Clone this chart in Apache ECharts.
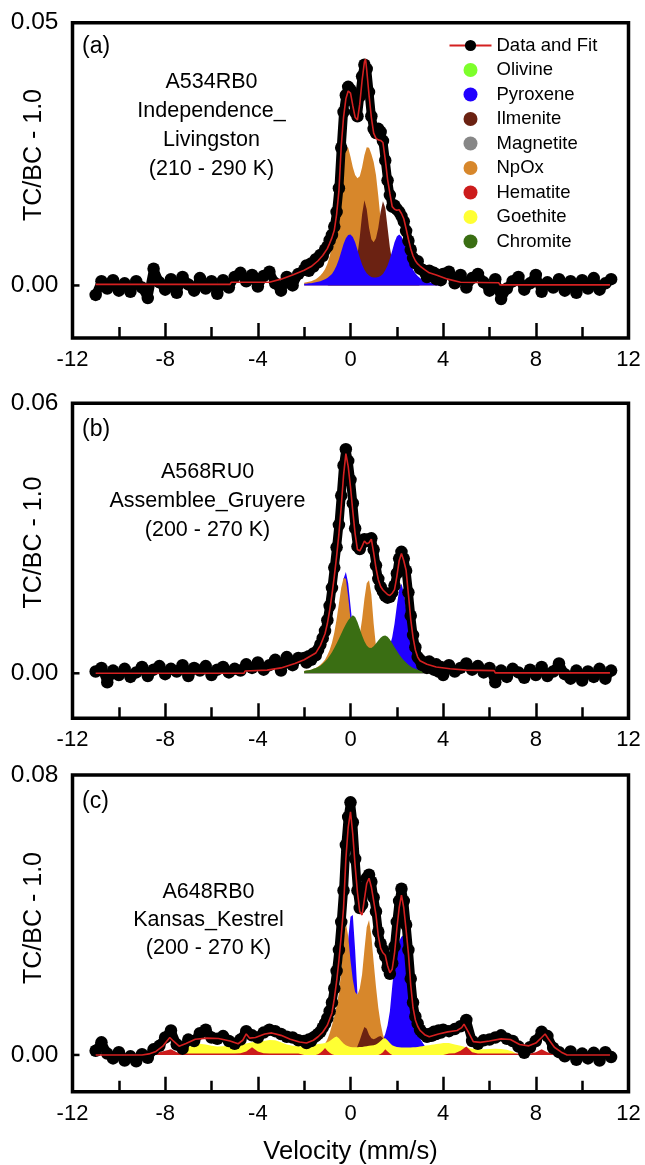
<!DOCTYPE html>
<html>
<head>
<meta charset="utf-8">
<script src="https://cdn.jsdelivr.net/npm/echarts@6/dist/echarts.min.js"></script>
<style>
html,body{margin:0;padding:0;background:#fff;}
#chart{width:645px;height:1165px;}
</style>
</head>
<body>
<div id="chart"></div>
<script>
// ---------------- DATA ----------------
// velocity channels (mm/s)
const velLeft = [-11,-10.75,-10.5,-10.25,-10,-9.75,-9.5,-9.25,-9,-8.75,-8.5,-8.25,
  -8,-7.75,-7.5,-7.25,-7,-6.75,-6.5,-6.25,-6,-5.75,-5.5,-5.25,
  -5,-4.75,-4.5,-4.25,-4,-3.75,-3.5,-3.25,-3,-2.75,-2.5,-2.25];
const velCore = [-2,-1.9,-1.8,-1.7,-1.6,-1.5,-1.4,-1.3,-1.2,-1.1,
  -1,-0.9,-0.8,-0.7,-0.6,-0.5,-0.4,-0.3,-0.2,-0.1,
  0,0.1,0.2,0.3,0.4,0.5,0.6,0.7,0.8,0.9,
  1,1.1,1.2,1.3,1.4,1.5,1.6,1.7,1.8,1.9,
  2,2.1,2.2,2.3,2.4,2.5,2.6,2.7,2.8,2.9,
  3,3.1,3.2,3.3,3.4,3.5,3.6,3.7,3.8,3.9,
  4];
const velRight = [4.25,4.5,4.75,5,5.25,5.5,5.75,6,6.25,6.5,
  6.75,7,7.25,7.5,7.75,8,8.25,8.5,8.75,9,
  9.25,9.5,9.75,10,10.25,10.5,10.75,11,11.25];
const velocity = velLeft.concat(velCore, velRight);

const xTickLabels = [-12,-8,-4,0,4,8,12];
const yLabelsA = [0, 0.05];
const yLabelsB = [0, 0.06];
const yLabelsC = [0, 0.08];

// ----- panel (a) A534RB0 -----
const dataA = [
  -0.0018,0.0008,-0.0006,0.0010,-0.0010,0.0004,-0.0012,0.0008,-0.0004,-0.0024,0.0032,0.0006,
  -0.0008,0.0012,-0.0014,0.0016,0.0002,-0.0010,0.0014,-0.0006,0.0008,-0.0016,0.0010,-0.0004,
  0.0016,0.0024,0.0008,0.0020,-0.0002,0.0018,0.0026,0.0004,-0.0010,0.0016,0.0000,0.0022,
  0.0030,0.0038,0.0028,0.0042,0.0036,0.0050,0.0044,0.0058,0.0056,0.0068,
  0.0074,0.0086,0.0096,0.0112,0.0140,0.0185,0.0262,0.0330,0.0362,0.0378,
  0.0372,0.0352,0.0330,0.0322,0.0360,0.0398,0.0420,0.0412,0.0368,0.0322,
  0.0298,0.0290,0.0298,0.0292,0.0275,0.0238,0.0200,0.0172,0.0150,0.0152,
  0.0145,0.0140,0.0132,0.0122,0.0104,0.0085,0.0068,0.0052,0.0042,0.0046,
  0.0032,0.0030,0.0026,0.0016,0.0028,0.0018,0.0024,0.0012,0.0020,0.0010,
  0.0022,
  0.0026,0.0004,0.0020,-0.0004,0.0014,0.0022,0.0006,-0.0010,0.0012,-0.0026,
  -0.0006,0.0008,0.0016,-0.0008,0.0004,0.0020,-0.0012,0.0006,-0.0004,0.0012,
  -0.0010,0.0008,-0.0014,0.0010,-0.0006,0.0014,-0.0008,0.0004,0.0012];
const fitVelA = [-11,-5.2,-5.15,-3.5,-3.0,-2.5,-2.0,-1.7,-1.4,-1.2,
  -1.0,-0.9,-0.8,-0.7,-0.6,-0.5,-0.4,-0.3,-0.2,-0.1,
  0,0.1,0.2,0.3,0.4,0.5,0.6,0.65,0.7,0.8,
  0.9,1.0,1.1,1.2,1.3,1.4,1.5,1.6,1.7,1.8,
  1.9,2.0,2.1,2.2,2.3,2.4,2.5,2.6,2.7,2.8,
  2.9,3.0,3.2,3.4,3.7,4.2,4.75,6.4,6.45,11.2];
const fitA = [0.0002,0.0002,0.0006,0.0006,0.0012,0.0020,0.0029,0.0036,0.0047,0.0057,
  0.0070,0.0080,0.0091,0.0105,0.0135,0.0180,0.0265,0.0320,0.0355,0.0370,
  0.0366,0.0342,0.0320,0.0315,0.0345,0.0390,0.0425,0.0431,0.0410,0.0362,
  0.0320,0.0290,0.0280,0.0277,0.0276,0.0272,0.0240,0.0202,0.0175,0.0150,
  0.0145,0.0143,0.0144,0.0137,0.0127,0.0108,0.0088,0.0070,0.0056,0.0047,
  0.0041,0.0037,0.0030,0.0024,0.0020,0.0012,0.0006,0.0005,0.0001,0.0001];
const npoxA = [0.0005,0.0006,0.0007,0.0008,0.0010,0.0012,0.0015,0.0019,0.0024,0.0031,
  0.0041,0.0055,0.0075,0.0105,0.0145,0.0190,0.0230,0.0255,0.0264,0.0262,
  0.0245,0.0225,0.0210,0.0204,0.0208,0.0225,0.0248,0.0263,0.0262,0.0250,
  0.0235,0.0210,0.0170,0.0125,0.0090,0.0065,0.0048,0.0037,0.0029,0.0023,
  0.0019,0.0016,0.0013,0.0011,0.0010,0.0008,0.0007,0.0006,0.0005,0.0005,
  0.0004,0.0004,0.0003,0.0003,0.0003,0.0002,0.0002,0.0002,0.0002,0.0001,
  0.0001];
const ilmA = [0,0,0,0,0,0,0,0,0,0,
  0,0.0002,0.0002,0.0003,0.0003,0.0004,0.0005,0.0007,0.0009,0.0012,
  0.0017,0.0024,0.0036,0.0058,0.0092,0.0135,0.0162,0.0145,0.0110,0.0088,
  0.0082,0.0090,0.0110,0.0140,0.0160,0.0148,0.0110,0.0072,0.0046,0.0031,
  0.0022,0.0016,0.0012,0.0009,0.0007,0.0005,0.0004,0.0003,0.0003,0.0002,
  0,0,0,0,0,0,0,0,0,0,
  0];
const pyxA = [0.0003,0.0003,0.0004,0.0004,0.0005,0.0006,0.0007,0.0008,0.0010,0.0012,
  0.0014,0.0018,0.0022,0.0029,0.0038,0.0050,0.0064,0.0079,0.0090,0.0096,
  0.0097,0.0092,0.0082,0.0068,0.0053,0.0040,0.0030,0.0023,0.0019,0.0016,
  0.0015,0.0015,0.0016,0.0018,0.0022,0.0029,0.0038,0.0051,0.0066,0.0082,
  0.0093,0.0097,0.0093,0.0083,0.0068,0.0053,0.0040,0.0030,0.0023,0.0018,
  0.0014,0.0011,0.0009,0.0008,0.0006,0.0005,0.0004,0.0004,0.0003,0.0003,
  0.0003];

// ----- panel (b) A568RU0 -----
const dataB = [
  0.0004,0.0012,-0.0020,0.0006,-0.0004,0.0010,-0.0008,0.0002,0.0014,-0.0006,0.0008,0.0016,
  -0.0002,0.0010,0.0004,0.0018,-0.0006,0.0012,0.0006,0.0016,-0.0004,0.0008,0.0014,0.0002,
  0.0010,0.0006,0.0020,0.0012,0.0024,0.0008,0.0018,0.0030,0.0006,0.0036,0.0018,0.0034,
  0.0034,0.0024,0.0038,0.0030,0.0044,0.0040,0.0052,0.0064,0.0078,0.0094,
  0.0118,0.0150,0.0190,0.0235,0.0280,0.0330,0.0395,0.0462,0.0498,0.0472,
  0.0430,0.0378,0.0322,0.0282,0.0276,0.0290,0.0298,0.0294,0.0298,0.0300,
  0.0275,0.0240,0.0210,0.0192,0.0182,0.0172,0.0168,0.0170,0.0180,0.0195,
  0.0222,0.0255,0.0270,0.0255,0.0228,0.0180,0.0128,0.0085,0.0058,0.0036,
  0.0030,0.0018,0.0024,0.0012,0.0026,0.0016,0.0008,0.0020,0.0004,0.0014,
  -0.0004,
  0.0018,0.0004,0.0012,0.0022,0.0008,0.0016,0.0002,0.0012,-0.0020,0.0006,
  -0.0008,0.0010,0.0002,-0.0010,0.0008,-0.0004,0.0014,-0.0006,0.0004,0.0022,
  -0.0002,-0.0012,0.0006,-0.0016,0.0004,-0.0008,0.0010,-0.0012,0.0006];
const fitVelB = [-11,-4.6,-4.55,-3.6,-3.0,-2.4,-2.0,-1.5,-1.3,-1.1,
  -1.0,-0.9,-0.8,-0.7,-0.6,-0.5,-0.4,-0.3,-0.2,-0.1,
  0,0.1,0.2,0.3,0.4,0.5,0.6,0.7,0.8,0.9,
  1.0,1.1,1.2,1.3,1.4,1.5,1.6,1.7,1.8,1.9,
  2.0,2.1,2.2,2.3,2.4,2.5,2.6,2.7,2.8,2.9,
  3.0,3.3,3.7,4.3,5.0,6.2,6.25,11.2];
const fitB = [0,0,0.0005,0.0007,0.0012,0.0022,0.0030,0.0045,0.0062,0.0088,
  0.0110,0.0140,0.0175,0.0215,0.0260,0.0310,0.0370,0.0440,0.0488,0.0460,
  0.0414,0.0360,0.0310,0.0275,0.0272,0.0282,0.0294,0.0288,0.0290,0.0298,
  0.0268,0.0234,0.0208,0.0193,0.0185,0.0180,0.0175,0.0173,0.0178,0.0186,
  0.0215,0.0250,0.0266,0.0250,0.0229,0.0175,0.0120,0.0080,0.0052,0.0036,
  0.0028,0.0020,0.0014,0.0010,0.0007,0.0006,0.0001,0.0001];
const pyxB = [0.0004,0.0004,0.0005,0.0006,0.0007,0.0008,0.0010,0.0012,0.0015,0.0019,
  0.0025,0.0033,0.0045,0.0062,0.0088,0.0125,0.0170,0.0210,0.0225,0.0200,
  0.0150,0.0100,0.0068,0.0048,0.0036,0.0028,0.0023,0.0020,0.0018,0.0018,
  0.0019,0.0021,0.0024,0.0029,0.0034,0.0040,0.0050,0.0062,0.0080,0.0110,
  0.0150,0.0185,0.0199,0.0180,0.0145,0.0105,0.0072,0.0048,0.0032,0.0022,
  0.0016,0.0012,0.0009,0.0007,0.0006,0.0005,0.0004,0.0004,0.0003,0.0003,
  0.0003];
const npoxB = [0.0005,0.0006,0.0007,0.0008,0.0010,0.0012,0.0015,0.0019,0.0024,0.0030,
  0.0040,0.0052,0.0068,0.0090,0.0120,0.0155,0.0190,0.0212,0.0210,0.0170,
  0.0120,0.0090,0.0072,0.0068,0.0085,0.0120,0.0165,0.0200,0.0207,0.0175,
  0.0110,0.0060,0.0040,0.0030,0.0024,0.0020,0.0017,0.0015,0.0013,0.0011,
  0.0010,0.0008,0.0007,0.0006,0.0005,0.0005,0.0004,0.0004,0.0003,0.0003,
  0.0003,0.0002,0.0002,0.0002,0.0002,0.0002,0.0001,0.0001,0.0001,0.0001,
  0.0001];
const chrB = [0.0005,0.0006,0.0007,0.0008,0.0010,0.0012,0.0014,0.0017,0.0021,0.0026,
  0.0032,0.0039,0.0047,0.0056,0.0066,0.0077,0.0088,0.0099,0.0109,0.0118,
  0.0124,0.0129,0.0125,0.0114,0.0099,0.0084,0.0071,0.0062,0.0057,0.0056,
  0.0060,0.0066,0.0073,0.0079,0.0083,0.0084,0.0081,0.0075,0.0067,0.0058,
  0.0050,0.0042,0.0035,0.0029,0.0024,0.0019,0.0015,0.0012,0.0010,0.0008,
  0.0006,0.0005,0.0004,0.0003,0.0003,0.0002,0.0002,0.0001,0.0001,0.0001,
  0.0001];

// ----- panel (c) A648RB0 -----
const dataC = [
  0.0012,0.0036,0.0004,-0.0010,0.0008,-0.0016,-0.0004,-0.0018,0.0002,-0.0008,0.0016,0.0026,
  0.0050,0.0070,0.0030,0.0018,0.0044,0.0040,0.0062,0.0072,0.0050,0.0046,0.0054,0.0040,
  0.0032,0.0044,0.0068,0.0056,0.0050,0.0064,0.0072,0.0068,0.0060,0.0052,0.0050,0.0042,
  0.0040,0.0034,0.0044,0.0040,0.0050,0.0054,0.0060,0.0066,0.0078,0.0090,
  0.0105,0.0125,0.0150,0.0190,0.0240,0.0300,0.0380,0.0470,0.0600,0.0680,
  0.0722,0.0665,0.0560,0.0470,0.0420,0.0430,0.0470,0.0505,0.0515,0.0495,
  0.0450,0.0410,0.0352,0.0318,0.0300,0.0282,0.0250,0.0232,0.0262,0.0310,
  0.0380,0.0440,0.0475,0.0440,0.0372,0.0300,0.0218,0.0150,0.0110,0.0090,
  0.0072,0.0064,0.0058,0.0052,0.0060,0.0055,0.0066,0.0060,0.0070,0.0064,
  0.0072,
  0.0068,0.0074,0.0082,0.0100,0.0040,0.0032,0.0042,0.0044,0.0050,0.0056,
  0.0046,0.0040,0.0024,0.0006,0.0022,0.0040,0.0066,0.0054,0.0020,0.0008,
  -0.0004,0.0010,-0.0014,0.0004,-0.0010,0.0006,-0.0016,0.0008,-0.0006];
const fitVelC = [-11,-9.0,-8.7,-8.4,-8.1,-7.95,-7.8,-7.65,-7.4,-7.1,
  -6.7,-6.2,-5.7,-5.2,-4.85,-4.65,-4.5,-4.35,-4.1,-3.7,
  -3.4,-3.0,-2.6,-2.2,-1.9,-1.6,-1.4,-1.2,-1.0,-0.8,
  -0.7,-0.6,-0.5,-0.4,-0.3,-0.2,-0.1,0,0.1,0.2,
  0.3,0.4,0.5,0.6,0.7,0.8,0.9,1.0,1.1,1.2,
  1.3,1.4,1.5,1.6,1.7,1.8,1.9,2.0,2.1,2.2,
  2.3,2.4,2.5,2.6,2.7,2.8,2.9,3.0,3.2,3.4,
  3.8,4.2,4.6,4.8,4.9,5.05,5.3,5.6,6.0,6.5,
  6.9,7.3,7.7,8.0,8.25,8.4,8.55,8.8,9.1,9.35,
  11.2];
const fitC = [0,0,0.0003,0.0010,0.0025,0.0038,0.0050,0.0040,0.0025,0.0033,
  0.0045,0.0048,0.0047,0.0040,0.0032,0.0042,0.0060,0.0048,0.0050,0.0060,
  0.0063,0.0056,0.0045,0.0037,0.0034,0.0042,0.0052,0.0065,0.0085,0.0120,
  0.0160,0.0210,0.0270,0.0340,0.0420,0.0560,0.0650,0.0695,0.0630,0.0540,
  0.0465,0.0410,0.0400,0.0445,0.0490,0.0505,0.0480,0.0440,0.0400,0.0340,
  0.0305,0.0292,0.0285,0.0255,0.0235,0.0245,0.0290,0.0360,0.0420,0.0457,
  0.0420,0.0357,0.0290,0.0200,0.0135,0.0100,0.0082,0.0070,0.0058,0.0052,
  0.0060,0.0066,0.0070,0.0078,0.0088,0.0070,0.0038,0.0036,0.0040,0.0046,
  0.0044,0.0030,0.0026,0.0034,0.0050,0.0060,0.0045,0.0022,0.0008,0,
  0];
const pyxC = [0.0003,0.0003,0.0004,0.0004,0.0005,0.0006,0.0007,0.0008,0.0010,0.0012,
  0.0015,0.0019,0.0025,0.0034,0.0047,0.0068,0.0100,0.0150,0.0230,0.0330,
  0.0395,0.0400,0.0300,0.0175,0.0100,0.0062,0.0043,0.0033,0.0027,0.0024,
  0.0023,0.0024,0.0027,0.0033,0.0043,0.0060,0.0085,0.0125,0.0195,0.0260,
  0.0300,0.0325,0.0338,0.0343,0.0300,0.0230,0.0170,0.0120,0.0088,0.0065,
  0.0048,0.0036,0.0026,0.0018,0.0013,0.0010,0.0008,0.0007,0.0006,0.0005,
  0.0004];
const npoxC = [0.0004,0.0005,0.0006,0.0007,0.0009,0.0011,0.0014,0.0018,0.0024,0.0032,
  0.0044,0.0062,0.0085,0.0110,0.0140,0.0178,0.0240,0.0330,0.0377,0.0340,
  0.0270,0.0215,0.0180,0.0172,0.0190,0.0230,0.0300,0.0365,0.0386,0.0340,
  0.0265,0.0195,0.0135,0.0090,0.0058,0.0040,0.0030,0.0023,0.0018,0.0015,
  0.0012,0.0010,0.0009,0.0008,0.0007,0.0006,0.0005,0.0005,0.0004,0.0004,
  0.0003,0.0003,0.0003,0.0002,0.0002,0.0002,0.0002,0.0001,0.0001,0.0001,
  0.0001];
const ilmC = [0,0,0,0,0,0,0,0,0,0,
  0,0,0,0,0,0,0,0,0,0.0002,
  0.0003,0.0005,0.0012,0.0025,0.0042,0.0062,0.0080,0.0075,0.0058,0.0048,
  0.0045,0.0048,0.0052,0.0054,0.0048,0.0032,0.0018,0.0010,0.0006,0.0004,
  0.0003,0,0,0,0,0,0,0,0,0,
  0,0,0,0,0,0,0,0,0,0,
  0];
const goeC = [
  0,0,0,0,0,0,0,0,0,0,0,0,
  0,0,0,0,0.0022,0.0030,0.0032,0.0030,0.0026,0.0024,0.0025,0.0026,
  0.0028,0.0030,0.0033,0.0036,0.0038,0.0040,0.0043,0.0042,0.0036,0.0030,0.0026,0.0025,
  0.0025,0.0026,0.0027,0.0028,0.0029,0.0030,0.0031,0.0032,0.0033,0.0034,
  0.0036,0.0040,0.0045,0.0050,0.0053,0.0048,0.0040,0.0033,0.0028,0.0025,
  0.0023,0.0022,0.0022,0.0022,0.0023,0.0023,0.0024,0.0025,0.0026,0.0027,
  0.0028,0.0030,0.0034,0.0040,0.0046,0.0048,0.0042,0.0034,0.0028,0.0025,
  0.0023,0.0022,0.0021,0.0021,0.0021,0.0021,0.0021,0.0022,0.0022,0.0023,
  0.0024,0.0025,0.0026,0.0027,0.0028,0.0029,0.0030,0.0031,0.0032,0.0033,
  0.0034,
  0.0034,0.0030,0.0026,0.0022,0.0018,0.0016,0.0016,0.0017,0.0018,0.0017,
  0.0015,0.0010,0,0,0,0,0,0,0,0,
  0,0,0,0,0,0,0,0,0];
const hemC = [
  0,0,0,0,0,0,0,0,0,0,0.0004,0.0008,
  0.0012,0.0016,0.0008,0.0005,0.0004,0.0004,0.0004,0.0004,0.0004,0.0004,0.0004,0.0004,
  0.0004,0.0005,0.0010,0.0022,0.0010,0.0005,0.0004,0.0004,0.0004,0.0004,0.0004,0.0004,
  0,0,0,0,0,0,0.0002,0.0006,0.0012,0.0020,
  0.0012,0.0006,0.0002,0,0,0,0,0,0,0,
  0,0,0,0,0,0,0,0,0,0,
  0,0,0,0.0003,0.0008,0.0016,0.0010,0.0004,0,0,
  0,0,0,0,0,0,0,0,0,0,
  0,0,0,0,0,0,0,0,0,0,
  0,
  0.0004,0.0005,0.0012,0.0024,0.0008,0.0004,0.0004,0.0004,0.0004,0.0004,
  0.0004,0.0004,0.0004,0.0004,0.0004,0.0008,0.0016,0.0008,0.0003,0,
  0,0,0,0,0,0,0,0,0];

// ---------------- CHART ----------------
const FONT = '"Liberation Sans", Arial, Helvetica, sans-serif';
const COL = {
  olivine:'#7dff2b', pyroxene:'#2000ff', ilmenite:'#6b2212', magnetite:'#878787',
  npox:'#d7872b', hematite:'#cc1c1c', goethite:'#ffff33', chromite:'#3a6e13',
  fit:'#d42020', data:'#000000'
};
const pairs = (xs, ys) => xs.map((x, i) => [x, ys[i]]);

const panels = [
  {top:22.7, height:315.3, min:-0.01, max:0.05, labels:yLabelsA},
  {top:403.3, height:315, min:-0.01, max:0.06, labels:yLabelsB},
  {top:775, height:316.7, min:-0.0105, max:0.08, labels:yLabelsC}
];

const grid = panels.map(p => ({
  left:72.5, right:16.5, top:p.top, height:p.height,
  show:true, borderColor:'#000', borderWidth:3.5, backgroundColor:'transparent',
  containLabel:false, outerBoundsMode:'none'
}));
const xAxis = panels.map((p, k) => ({
  type:'value', gridIndex:k, min:-12, max:12, interval:4, position:'bottom',
  axisLine:{show:false, onZero:false}, splitLine:{show:false},
  axisTick:{show:true, inside:true, length:15, lineStyle:{color:'#000', width:2.5}},
  minorTick:{show:true, splitNumber:2, length:11, lineStyle:{color:'#000', width:2.5}},
  minorSplitLine:{show:false},
  axisLabel:{show:true, margin:11, fontSize:22, fontFamily:FONT, color:'#000',
    formatter: v => (xTickLabels.indexOf(v) >= 0 ? String(v) : '')}
}));
const yAxis = panels.map((p, k) => ({
  type:'value', gridIndex:k, min:p.min, max:p.max, position:'left',
  axisLine:{show:false, onZero:false}, splitLine:{show:false},
  axisTick:{show:false},
  axisLabel:{show:true, customValues:p.labels, margin:14, fontSize:24.5, fontFamily:FONT, color:'#000',
    formatter: v => Number(v).toFixed(2)}
}));

function area(k, name, color, xs, ys, z) {
  return {type:'line', name, xAxisIndex:k, yAxisIndex:k, data:pairs(xs, ys),
    symbol:'none', showSymbol:false, lineStyle:{width:0, color}, itemStyle:{color},
    areaStyle:{color, opacity:1}, z, silent:true};
}
function dots(k, ys) {
  return {type:'line', name:'Data and Fit', xAxisIndex:k, yAxisIndex:k, data:pairs(velocity, ys),
    symbol:'circle', symbolSize:12.5, showSymbol:true, itemStyle:{color:COL.data},
    lineStyle:{color:COL.data, width:9}, z:8, silent:true};
}
function fitLine(k, xs, ys) {
  return {type:'line', name:'Data and Fit', xAxisIndex:k, yAxisIndex:k, data:pairs(xs, ys),
    symbol:'circle', showSymbol:false, itemStyle:{color:COL.data},
    lineStyle:{color:COL.fit, width:1.6}, z:9, silent:true};
}

const series = [
  fitLine(0, fitVelA, fitA),
  dots(0, dataA),
  area(0, 'NpOx', COL.npox, velCore, npoxA, 2),
  area(0, 'Ilmenite', COL.ilmenite, velCore, ilmA, 3),
  area(0, 'Pyroxene', COL.pyroxene, velCore, pyxA, 4),
  {type:'line', name:'Olivine', xAxisIndex:0, yAxisIndex:0, data:[], itemStyle:{color:COL.olivine}, lineStyle:{width:0}},
  {type:'line', name:'Magnetite', xAxisIndex:0, yAxisIndex:0, data:[], itemStyle:{color:COL.magnetite}, lineStyle:{width:0}},
  {type:'line', name:'Hematite', xAxisIndex:2, yAxisIndex:2, data:pairs(velocity, hemC), symbol:'none', showSymbol:false,
    lineStyle:{width:0, color:COL.hematite}, itemStyle:{color:COL.hematite}, areaStyle:{color:COL.hematite, opacity:1}, z:6, silent:true},
  {type:'line', name:'Goethite', xAxisIndex:2, yAxisIndex:2, data:pairs(velocity, goeC), symbol:'none', showSymbol:false,
    lineStyle:{width:0, color:COL.goethite}, itemStyle:{color:COL.goethite}, areaStyle:{color:COL.goethite, opacity:1}, z:5, silent:true},
  area(1, 'Chromite', COL.chromite, velCore, chrB, 4),

  fitLine(1, fitVelB, fitB),
  dots(1, dataB),
  area(1, 'Pyroxene', COL.pyroxene, velCore, pyxB, 2),
  area(1, 'NpOx', COL.npox, velCore, npoxB, 3),

  fitLine(2, fitVelC, fitC),
  dots(2, dataC),
  area(2, 'Pyroxene', COL.pyroxene, velCore, pyxC, 2),
  area(2, 'NpOx', COL.npox, velCore, npoxC, 3),
  area(2, 'Ilmenite', COL.ilmenite, velCore, ilmC, 4)
];

const legendNames = ['Data and Fit','Olivine','Pyroxene','Ilmenite','Magnetite','NpOx','Hematite','Goethite','Chromite'];

function txt(x, y, text, size, opts) {
  return Object.assign({type:'text', x, y, z:100, silent:true,
    style:Object.assign({text, font: size + 'px ' + FONT, fill:'#000',
      textAlign:'left', textVerticalAlign:'middle'}, (opts && opts.style) || {})},
    (opts && opts.el) || {});
}

const graphic = [
  txt(82, 46.7, '(a)', 23),
  txt(211.5, 67.2, 'A534RB0\nIndependence_\nLivingston\n(210 - 290 K)', 21.5,
    {style:{textAlign:'center', textVerticalAlign:'top', lineHeight:29}}),
  txt(82, 430, '(b)', 23),
  txt(207.5, 457.2, 'A568RU0\nAssemblee_Gruyere\n(200 - 270 K)', 21.5,
    {style:{textAlign:'center', textVerticalAlign:'top', lineHeight:29}}),
  txt(82, 801.7, '(c)', 23),
  txt(208.5, 877.5, 'A648RB0\nKansas_Kestrel\n(200 - 270 K)', 21.5,
    {style:{textAlign:'center', textVerticalAlign:'top', lineHeight:28.3}}),
  txt(34, 155, 'TC/BC - 1.0', 25, {style:{textAlign:'center'}, el:{rotation:Math.PI/2}}),
  txt(34, 542.5, 'TC/BC - 1.0', 25, {style:{textAlign:'center'}, el:{rotation:Math.PI/2}}),
  txt(34, 918, 'TC/BC - 1.0', 25, {style:{textAlign:'center'}, el:{rotation:Math.PI/2}}),
  txt(350.5, 1151.7, 'Velocity (mm/s)', 25.5, {style:{textAlign:'center'}})
];

const chart = echarts.init(document.getElementById('chart'), null, {renderer:'canvas'});
chart.setOption({
  animation:false,
  backgroundColor:'#ffffff',
  grid, xAxis, yAxis, series, graphic,
  legend:{
    show:true, orient:'vertical', left:443.5, top:31,
    itemWidth:42, itemHeight:14, itemGap:5.5, selectedMode:false,
    textStyle:{fontSize:18.5, fontFamily:FONT, color:'#000'},
    data: legendNames.map((n, i) => i === 0 ? {name:n} : {name:n, icon:'circle'})
  }
});

// single inward tick at y = 0 on each panel's left edge, placed through the axis scales
const zeroTicks = panels.map((p, k) => {
  const a = chart.convertToPixel({gridIndex:k}, [-12, 0]);
  return {type:'line', z:60, silent:true,
    shape:{x1:a[0], y1:a[1], x2:a[0] + 7, y2:a[1]},
    style:{stroke:'#000', lineWidth:2.5}};
});
chart.setOption({graphic: graphic.concat(zeroTicks)});
</script>
</body>
</html>
